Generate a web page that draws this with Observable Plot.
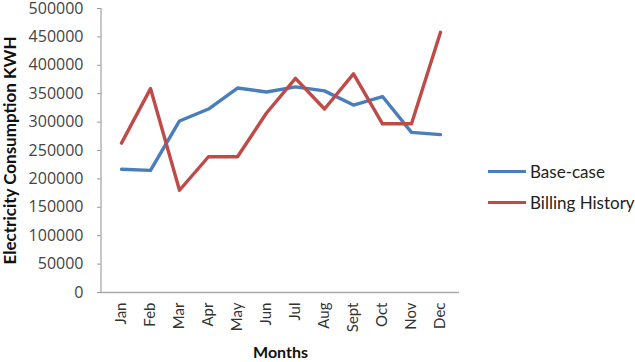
<!DOCTYPE html>
<html>
<head>
<meta charset="utf-8">
<script src="https://cdn.jsdelivr.net/npm/d3@7"></script>
<script src="https://cdn.jsdelivr.net/npm/@observablehq/plot@0.6"></script>
<style>
  html, body { margin: 0; padding: 0; background: #fff; }
  #wrap { position: relative; width: 635px; height: 362px; font-family: Lato, "Open Sans", sans-serif; }
  .legend { position: absolute; left: 488px; font-size: 17px; color: #222; display: flex; align-items: center; }
  .legend .sw { width: 38px; height: 3px; margin-right: 4px; }
</style>
</head>
<body>
<div id="wrap"></div>
<script>
const months = ["Jan","Feb","Mar","Apr","May","Jun","Jul","Aug","Sept","Oct","Nov","Dec"];
const baseCase = [217000, 215000, 302000, 323000, 360000, 353000, 362000, 355000, 330000, 345000, 282000, 278000];
const billingHistory = [263000, 359000, 180000, 239000, 239000, 316000, 377000, 323000, 385000, 297000, 297000, 458000];
const seriesNames = ["Base-case", "Billing History"];
const colors = ["#4a7ebb", "#be4b48"];
const yTicks = d3.range(0, 500001, 50000);

const data = [];
months.forEach((m, i) => {
  data.push({month: m, value: baseCase[i], series: seriesNames[0]});
  data.push({month: m, value: billingHistory[i], series: seriesNames[1]});
});

const chart = Plot.plot({
  width: 635,
  height: 362,
  marginLeft: 101,
  marginRight: 176,
  marginTop: 8,
  marginBottom: 70,
  style: {fontFamily: "Lato, 'Open Sans', sans-serif", fontSize: "16px", color: "#333", background: "#fff"},
  x: {type: "point", domain: months, padding: 0.5, label: null},
  y: {domain: [0, 500000], label: null},
  color: {domain: seriesNames, range: colors},
  marks: [
    Plot.ruleY([0], {stroke: "#aaa", strokeWidth: 1.3}),
    Plot.axisY({ticks: yTicks, tickSize: 4, tickPadding: 14, tickFormat: d => String(d), stroke: "#999", fill: "#444", fontSize: 16, fontFamily: "'Open Sans', sans-serif"}),
    Plot.axisX({tickSize: 0, tickRotate: -90, tickPadding: 10, fill: "#333", fontSize: 15}),
    Plot.line(data, {x: "month", y: "value", z: "series", stroke: "series", strokeWidth: 3.4}),
    Plot.text(["Months"], {frameAnchor: "bottom", dy: 65, text: d => d, fontWeight: "bold", fontSize: 16, fill: "#111"}),
    Plot.text(["Electricity Consumption KWH"], {frameAnchor: "left", textAnchor: "middle", dx: -91, rotate: -90, text: d => d, fontWeight: "bold", fontSize: 17, fill: "#111"})
  ]
});

// y-axis line along the left edge of the frame
const ys = chart.scale("y");
d3.select(chart).append("line")
  .attr("x1", 101).attr("x2", 101)
  .attr("y1", ys.apply(0)).attr("y2", ys.apply(500000))
  .attr("stroke", "#aaa").attr("stroke-width", 1.3);

const wrap = document.getElementById("wrap");
wrap.appendChild(chart);

const legendTops = [161, 192];
seriesNames.forEach((name, i) => {
  const item = document.createElement("div");
  item.className = "legend";
  item.style.top = legendTops[i] + "px";
  const sw = document.createElement("div");
  sw.className = "sw";
  sw.style.background = colors[i];
  const tx = document.createElement("span");
  tx.textContent = name;
  item.appendChild(sw);
  item.appendChild(tx);
  wrap.appendChild(item);
});
</script>
</body>
</html>
